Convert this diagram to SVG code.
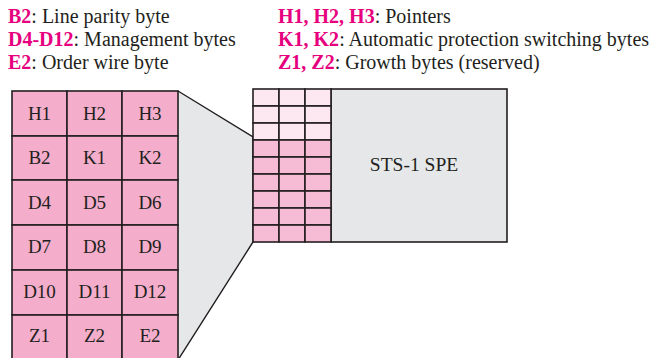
<svg xmlns="http://www.w3.org/2000/svg" width="655" height="358" viewBox="0 0 655 358">
<style>
text{font-family:"Liberation Serif","Times New Roman",serif;fill:#231f20}
.lg{font-size:20px}
.k{font-weight:bold;fill:#e6007e}
.c{font-size:19px;text-anchor:middle}
.cell{fill:#f4aecb;stroke:#231f20;stroke-width:1.6}
.sc{fill:#f6bcd6;stroke:#231f20;stroke-width:1.6}
.sl{fill:#fde8f1;stroke:#231f20;stroke-width:1.6}
</style>
<rect width="655" height="358" fill="#fff"/>
<g id="legend">
<text class="lg" x="8" y="23"><tspan class="k">B2</tspan>: Line parity byte</text>
<text class="lg" x="8" y="46"><tspan class="k">D4-D12</tspan>: Management bytes</text>
<text class="lg" x="8" y="69"><tspan class="k">E2</tspan>: Order wire byte</text>
<text class="lg" x="278" y="23"><tspan class="k">H1, H2, H3</tspan>: Pointers</text>
<text class="lg" x="278" y="46"><tspan class="k">K1, K2</tspan>: Automatic protection switching bytes</text>
<text class="lg" x="278" y="69"><tspan class="k">Z1, Z2</tspan>: Growth bytes (reserved)</text>
</g>
<g id="connectors">
<polygon points="178,91 253,137 253,242 178,360" fill="#e6e7e8" stroke="none"/>
<polyline points="178,91 253,137 253,242 178,360" fill="none" stroke="#231f20" stroke-width="1.4"/>
</g>
<g id="overhead-grid">
<rect class="cell" x="12" y="91" width="55" height="45"/><text class="c" x="39.5" y="120">H1</text>
<rect class="cell" x="67" y="91" width="55" height="45"/><text class="c" x="94.5" y="120">H2</text>
<rect class="cell" x="122" y="91" width="56" height="45"/><text class="c" x="150" y="120">H3</text>
<rect class="cell" x="12" y="136" width="55" height="44"/><text class="c" x="39.5" y="164">B2</text>
<rect class="cell" x="67" y="136" width="55" height="44"/><text class="c" x="94.5" y="164">K1</text>
<rect class="cell" x="122" y="136" width="56" height="44"/><text class="c" x="150" y="164">K2</text>
<rect class="cell" x="12" y="180" width="55" height="45"/><text class="c" x="39.5" y="209">D4</text>
<rect class="cell" x="67" y="180" width="55" height="45"/><text class="c" x="94.5" y="209">D5</text>
<rect class="cell" x="122" y="180" width="56" height="45"/><text class="c" x="150" y="209">D6</text>
<rect class="cell" x="12" y="225" width="55" height="45"/><text class="c" x="39.5" y="253">D7</text>
<rect class="cell" x="67" y="225" width="55" height="45"/><text class="c" x="94.5" y="253">D8</text>
<rect class="cell" x="122" y="225" width="56" height="45"/><text class="c" x="150" y="253">D9</text>
<rect class="cell" x="12" y="270" width="55" height="45"/><text class="c" x="39.5" y="298">D10</text>
<rect class="cell" x="67" y="270" width="55" height="45"/><text class="c" x="94.5" y="298">D11</text>
<rect class="cell" x="122" y="270" width="56" height="45"/><text class="c" x="150" y="298">D12</text>
<rect class="cell" x="12" y="315" width="55" height="45"/><text class="c" x="39.5" y="342">Z1</text>
<rect class="cell" x="67" y="315" width="55" height="45"/><text class="c" x="94.5" y="342">Z2</text>
<rect class="cell" x="122" y="315" width="56" height="45"/><text class="c" x="150" y="342">E2</text>
</g>
<g id="frame">
<rect x="331" y="89" width="176" height="153" fill="#e6e7e8" stroke="#231f20" stroke-width="1.6"/>
<text x="414" y="171" font-size="19.5" text-anchor="middle">STS-1 SPE</text>
<g>
<rect class="sl" x="253" y="89" width="26" height="17"/><rect class="sl" x="279" y="89" width="26" height="17"/><rect class="sl" x="305" y="89" width="26" height="17"/>
<rect class="sl" x="253" y="106" width="26" height="17"/><rect class="sl" x="279" y="106" width="26" height="17"/><rect class="sl" x="305" y="106" width="26" height="17"/>
<rect class="sl" x="253" y="123" width="26" height="17"/><rect class="sl" x="279" y="123" width="26" height="17"/><rect class="sl" x="305" y="123" width="26" height="17"/>
<rect class="sc" x="253" y="140" width="26" height="17"/><rect class="sc" x="279" y="140" width="26" height="17"/><rect class="sc" x="305" y="140" width="26" height="17"/>
<rect class="sc" x="253" y="157" width="26" height="17"/><rect class="sc" x="279" y="157" width="26" height="17"/><rect class="sc" x="305" y="157" width="26" height="17"/>
<rect class="sc" x="253" y="174" width="26" height="17"/><rect class="sc" x="279" y="174" width="26" height="17"/><rect class="sc" x="305" y="174" width="26" height="17"/>
<rect class="sc" x="253" y="191" width="26" height="17"/><rect class="sc" x="279" y="191" width="26" height="17"/><rect class="sc" x="305" y="191" width="26" height="17"/>
<rect class="sc" x="253" y="208" width="26" height="17"/><rect class="sc" x="279" y="208" width="26" height="17"/><rect class="sc" x="305" y="208" width="26" height="17"/>
<rect class="sc" x="253" y="225" width="26" height="17"/><rect class="sc" x="279" y="225" width="26" height="17"/><rect class="sc" x="305" y="225" width="26" height="17"/>
</g>
</g>
</svg>
